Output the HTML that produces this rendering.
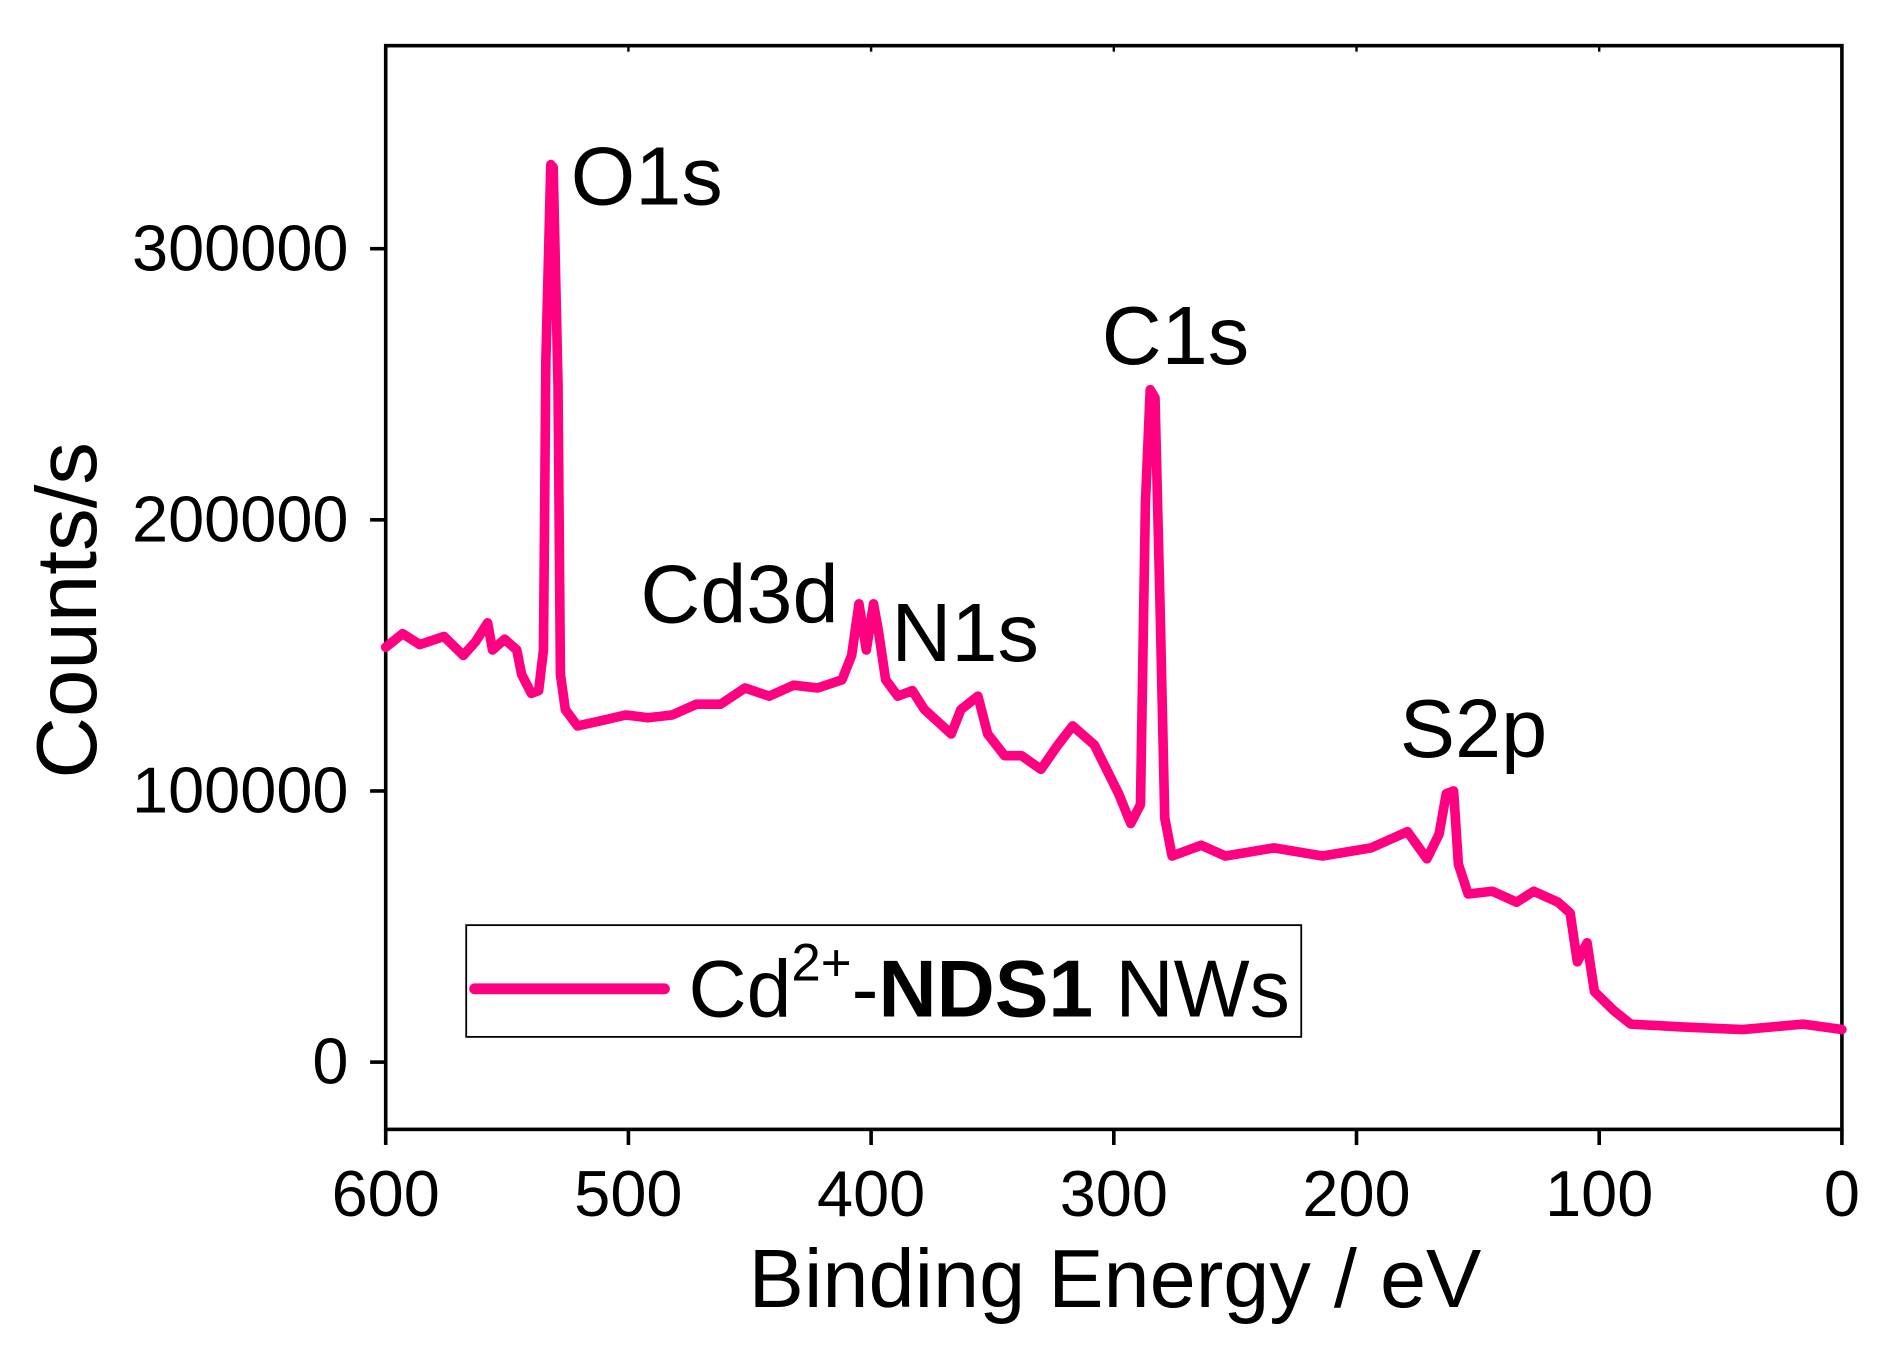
<!DOCTYPE html>
<html><head><meta charset="utf-8"><style>
html,body{margin:0;padding:0;background:#fff;}
svg{display:block;font-family:"Liberation Sans",Arial,sans-serif;}
</style></head><body>
<svg width="1884" height="1368" viewBox="0 0 1568 1138.6" xmlns="http://www.w3.org/2000/svg">
<g id="axes"></g>
<g id="series"></g>
<g id="labels"></g>
</svg>
<script>
const energies=[600,593,586,576,568,563,558,556,551,546,544,540,537,535,534,532,531,529,528,526,521,511,501,492,482,472,462,452,442,432,422,412,408,405,402,399,397,394,389,383,378,373,367,363,356,352,345,338,330,323,317,308,303,298,293,289,287,285,283,281,279,276,264,254,234,214,194,179,171,166,163,160,158,154,144,134,127,117,112,109,105,102,94,87,66,41,16,0];
const counts=[153000,158000,154000,157000,150000,155000,162000,152000,156000,152000,143000,136000,137000,152000,259000,331000,330000,250000,143000,130000,124000,126000,128000,127000,128000,132000,132000,138000,135000,139000,138000,141000,150000,169000,152000,169000,159000,141000,135000,137000,130000,126000,121000,130000,135000,121000,113000,113000,108000,117000,124000,117000,108000,99000,88000,95000,206000,248000,245000,170000,90000,76000,80000,76000,79000,76000,79000,85000,75000,84000,99000,100000,73000,62000,63000,59000,63000,59000,55000,37000,44000,26000,19000,14000,13000,12000,14000,12000];
const xTicks=[600,500,400,300,200,100,0];
const yTicks=[0,100000,200000,300000];
const yTickLabels=["0","100000","200000","300000"];
const peakNames=["O1s","Cd3d","N1s","C1s","S2p"];
const peakPos=[[475,170],[533,518],[742,550],[917,303],[1165,630]];

const L=321,R=1533,T=38,B=940;
const X=e=>L+(600-e)*(R-L)/600;
const Y=v=>884-v*677/300000;
const NS="http://www.w3.org/2000/svg";
function mk(tag,attrs,parent,text){const el=document.createElementNS(NS,tag);for(const k in attrs)el.setAttribute(k,attrs[k]);if(text!==undefined)el.textContent=text;parent.appendChild(el);return el;}
const ax=document.getElementById('axes'),sr=document.getElementById('series'),lb=document.getElementById('labels');

const frame=mk('rect',{x:L,y:T,width:R-L,height:B-T,fill:'none',stroke:'#000','stroke-width':3},ax);



xTicks.forEach(t=>{
  const x=X(t);
  const tk=mk('line',{x1:x,y1:B,x2:x,y2:B+13,stroke:'#000','stroke-width':3},ax);
  
  
  mk('line',{x1:x,y1:T,x2:x,y2:T+5,stroke:'#000','stroke-width':2},ax);
  const tl=mk('text',{x:x,y:1012,'font-size':54,'text-anchor':'middle'},ax,String(t));
  
  
});
yTicks.forEach((t,i)=>{
  const y=Y(t);
  const tk=mk('line',{x1:L-13,y1:y,x2:L,y2:y,stroke:'#000','stroke-width':3},ax);
  
  
  const tl=mk('text',{x:290,y:y+18,'font-size':54,'text-anchor':'end'},ax,yTickLabels[i]);
  
  
});

const xt=mk('text',{x:928,y:1088,'font-size':69,'text-anchor':'middle'},ax,'Binding Energy / eV');


const yt=mk('text',{x:0,y:0,'font-size':71,'text-anchor':'middle',transform:'translate(80,508) rotate(-90)'},ax,'Counts/s');



const d=energies.map((e,i)=>(i?'L':'M')+X(e).toFixed(1)+' '+Y(counts[i]).toFixed(1)).join(' ');
const line=mk('path',{d:d,fill:'none',stroke:'#ff0080','stroke-width':8,'stroke-linejoin':'round','stroke-linecap':'round'},sr);



peakNames.forEach((n,i)=>{
  const t=mk('text',{x:peakPos[i][0],y:peakPos[i][1],'font-size':69},lb,n);
  
  
});

const lg=mk('g',{},lb);


mk('rect',{x:388,y:770,width:695,height:93,fill:'#fff',stroke:'#000','stroke-width':1.5},lg);
const ll=mk('line',{x1:395,y1:823,x2:553,y2:823,stroke:'#ff0080','stroke-width':9,'stroke-linecap':'round'},lg);


const lt=mk('text',{x:573,y:846,'font-size':67},lg);


mk('tspan',{},lt,'Cd');
mk('tspan',{dy:-30,'font-size':44},lt,'2+');
mk('tspan',{dy:30},lt,'-');
mk('tspan',{'font-weight':'bold'},lt,'NDS1');
mk('tspan',{},lt,' NWs');
</script>
</body></html>
